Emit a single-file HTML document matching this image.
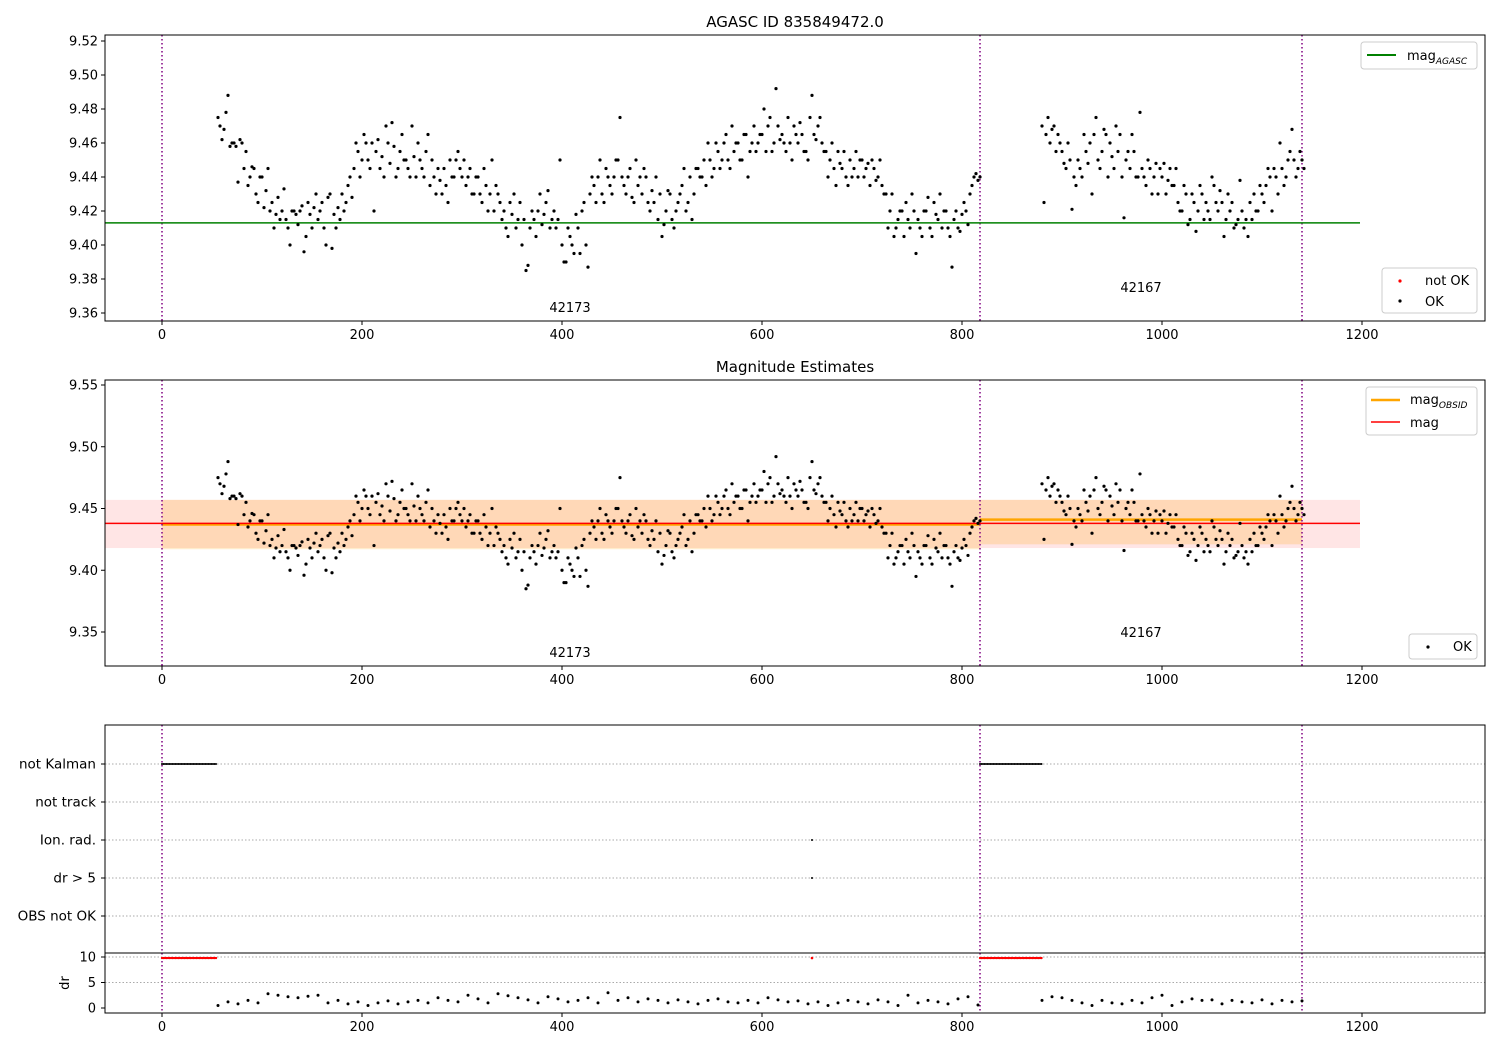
<!DOCTYPE html>
<html><head><meta charset="utf-8"><style>
body{margin:0;background:#fff;font-family:"Liberation Sans","DejaVu Sans",sans-serif}
svg text{font-family:"DejaVu Sans","Liberation Sans",sans-serif;font-size:13px;fill:#000}
</style></head><body>
<svg id="c" width="1500" height="1050" xmlns="http://www.w3.org/2000/svg"></svg>
<script>
const mags1=[9.475,9.462,9.478,9.458,9.46,9.437,9.46,9.455,9.44,9.445,9.425,9.44,9.432,9.42,9.41,9.428,9.42,9.415,9.40,9.42,9.412,9.423,9.405,9.418,9.422,9.415,9.425,9.40,9.43,9.418,9.422,9.43,9.425,9.44,9.445,9.455,9.45,9.46,9.445,9.42,9.462,9.452,9.47,9.448,9.458,9.445,9.465,9.45,9.44,9.452,9.46,9.445,9.455,9.435,9.44,9.445,9.43,9.435,9.45,9.44,9.455,9.44,9.435,9.445,9.43,9.44,9.425,9.435,9.43,9.42,9.43,9.415,9.41,9.425,9.43,9.415,9.40,9.385,9.41,9.415,9.42,9.412,9.425,9.41,9.42,9.415,9.40,9.39,9.405,9.395,9.41,9.42,9.40,9.43,9.435,9.44,9.43,9.445,9.435,9.44,9.45,9.44,9.43,9.445,9.425,9.435,9.43,9.44,9.42,9.425,9.415,9.405,9.42,9.43,9.41,9.425,9.435,9.42,9.44,9.43,9.445,9.44,9.435,9.45,9.445,9.455,9.45,9.465,9.445,9.455,9.46,9.45,9.465,9.455,9.47,9.46,9.465,9.455,9.475,9.46,9.47,9.465,9.455,9.46,9.47,9.46,9.465,9.455,9.475,9.465,9.47,9.46,9.455,9.45,9.445,9.455,9.445,9.44,9.45,9.445,9.44,9.45,9.445,9.435,9.445,9.44,9.435,9.43,9.42,9.405,9.415,9.42,9.425,9.41,9.42,9.415,9.405,9.42,9.41,9.425,9.415,9.41,9.42,9.405,9.415,9.41,9.418,9.42,9.43,9.44,9.438];
const mags1b=[9.47,9.468,9.488,9.46,9.458,9.462,9.445,9.435,9.446,9.43,9.44,9.422,9.445,9.425,9.418,9.415,9.433,9.41,9.42,9.418,9.42,9.396,9.425,9.41,9.43,9.42,9.41,9.428,9.398,9.41,9.415,9.42,9.435,9.428,9.46,9.44,9.465,9.45,9.46,9.455,9.445,9.44,9.46,9.472,9.44,9.455,9.45,9.445,9.47,9.44,9.45,9.44,9.465,9.45,9.43,9.438,9.445,9.425,9.44,9.45,9.445,9.45,9.44,9.43,9.44,9.43,9.445,9.42,9.45,9.435,9.425,9.42,9.405,9.418,9.41,9.425,9.415,9.388,9.42,9.405,9.43,9.418,9.432,9.415,9.41,9.45,9.39,9.41,9.40,9.418,9.395,9.425,9.387,9.44,9.425,9.45,9.425,9.44,9.43,9.45,9.475,9.435,9.44,9.428,9.45,9.44,9.445,9.425,9.432,9.44,9.43,9.412,9.432,9.415,9.42,9.43,9.445,9.425,9.415,9.445,9.44,9.45,9.46,9.44,9.46,9.445,9.46,9.45,9.47,9.46,9.45,9.465,9.44,9.46,9.455,9.465,9.48,9.47,9.455,9.492,9.462,9.46,9.475,9.45,9.465,9.472,9.455,9.45,9.488,9.462,9.475,9.455,9.44,9.46,9.435,9.448,9.455,9.435,9.44,9.455,9.45,9.44,9.448,9.45,9.438,9.45,9.43,9.41,9.43,9.41,9.42,9.405,9.415,9.43,9.395,9.41,9.42,9.428,9.405,9.418,9.43,9.42,9.41,9.387,9.42,9.408,9.425,9.412,9.435,9.442,9.44];
const mags2=[9.47,9.465,9.46,9.47,9.465,9.455,9.445,9.45,9.44,9.45,9.44,9.455,9.46,9.465,9.45,9.455,9.465,9.46,9.445,9.455,9.44,9.45,9.445,9.455,9.44,9.445,9.435,9.445,9.44,9.43,9.44,9.43,9.445,9.435,9.425,9.42,9.43,9.415,9.425,9.42,9.43,9.425,9.415,9.435,9.42,9.425,9.415,9.42,9.41,9.415,9.42,9.415,9.425,9.43,9.42,9.43,9.435,9.44,9.445,9.43,9.445,9.44,9.455,9.45,9.445,9.45];
const mags2b=[9.425,9.475,9.468,9.455,9.46,9.448,9.46,9.421,9.435,9.445,9.465,9.448,9.43,9.475,9.445,9.468,9.44,9.452,9.47,9.465,9.416,9.455,9.465,9.44,9.478,9.44,9.45,9.43,9.448,9.445,9.448,9.438,9.435,9.445,9.42,9.435,9.412,9.43,9.408,9.435,9.415,9.42,9.44,9.425,9.432,9.405,9.43,9.425,9.412,9.438,9.41,9.405,9.415,9.42,9.435,9.425,9.445,9.42,9.44,9.46,9.435,9.45,9.468,9.44,9.455,9.445];
const dr1=[0.5,1.2,0.8,1.5,1.0,2.8,2.5,2.2,2.0,2.3,2.5,1.0,1.5,0.8,1.2,0.5,1.0,1.4,0.8,1.2,1.5,1.0,2.0,1.5,1.2,2.5,1.8,1.0,2.8,2.4,2.0,1.6,1.0,2.2,1.8,1.2,1.5,2.0,1.0,3.0,1.5,2.0,1.2,1.8,1.5,1.0,1.6,1.2,0.8,1.5,1.8,1.2,1.0,1.5,1.0,2.0,1.6,1.2,1.4,0.8,1.2,0.5,1.0,1.5,1.2,0.8,1.6,1.2,0.5,2.5,1.0,1.5,1.2,0.8,1.8,2.2,0.6];
const dr2=[1.5,2.2,2.0,1.5,1.0,0.5,1.5,1.0,0.8,1.5,1.0,2.0,2.5,0.5,1.2,1.8,1.5,1.6,0.8,1.5,1.2,1.0,1.6,0.8,1.5,1.2,1.4];
const obsStarts=[0,818];const obsEnds=[818,1140];const obsIds=["42173","42167"];
const obsMag=[9.437,9.441];const obsLo=[9.417,9.421];const obsHi=[9.457,9.457];
const magAgasc=9.413, magAll=9.438, magLo=9.418, magHi=9.457;
const xTicks=[0,200,400,600,800,1000,1200];
const y1Ticks=[9.36,9.38,9.40,9.42,9.44,9.46,9.48,9.50,9.52];
const y2Ticks=[9.35,9.40,9.45,9.50,9.55];
const cats=["not Kalman","not track","Ion. rad.","dr > 5","OBS not OK"];
const drTicks=[0,5,10];
const t1Start=56,t1bStart=58,t2Start=880,t2bStart=882,tStep=4,drStep=10;
const nkRanges=[[0,55],[818,880]];
const ionT=650;

const S=document.getElementById('c');const NS='http://www.w3.org/2000/svg';
function el(t,a,p){const e=document.createElementNS(NS,t);for(const k in a)e.setAttribute(k,a[k]);(p||S).appendChild(e);return e;}
const X=v=>162+v;
const Y1=v=>41+(9.52-v)*1700;
const Y2=v=>385+(9.55-v)*1235;
const YC=i=>764+i*38;
const YD=v=>1008-v*5.1;
const L=105,R=1485;
function txt(x,y,s,anchor,name,size){const t=el('text',{x:x,y:y,'text-anchor':anchor||'middle'});t.textContent=s;if(size)t.style.fontSize=size+'px';return t;}
function xAxis(bot,g){xTicks.forEach(v=>{el('line',{x1:X(v),x2:X(v),y1:bot,y2:bot+4,stroke:'#000'},g);txt(X(v),bot+18,String(v),'middle','x-tick-label');});}
function vlines(top,bot,g){[0,818,1140].forEach(v=>{const l=el('line',{x1:X(v),x2:X(v),y1:top,y2:bot,stroke:'#800080','stroke-width':1.5,'stroke-dasharray':'1.5,2.5'},g);});}
function series(arr,start,Yf,g){arr.forEach((m,i)=>{const c=el('circle',{cx:X(start+i*tStep),cy:Yf(m),r:1.6,fill:'#000'},g);});}
function pts(Yf,g){series(mags1,t1Start,Yf,g);series(mags1b,t1bStart,Yf,g);series(mags2,t2Start,Yf,g);series(mags2b,t2bStart,Yf,g);}

// Panel 1
const g1=el('g',{});
txt(795,27,'AGASC ID 835849472.0','middle','top-title',15);
vlines(35,321,g1);
const ag=el('line',{x1:L,x2:X(1198),y1:Y1(magAgasc),y2:Y1(magAgasc),stroke:'green','stroke-width':1.5},g1);
pts(Y1,g1);
y1Ticks.forEach(v=>{el('line',{x1:L-4,x2:L,y1:Y1(v),y2:Y1(v),stroke:'#000'},g1);txt(L-7,Y1(v)+4.5,v.toFixed(2),'end','y1-tick-label');});
xAxis(321,g1);
{const f=el('rect',{x:L,y:35,width:R-L,height:286,fill:'none',stroke:'#000'});}
txt(570,312,obsIds[0],'middle','obsid-label');txt(1141,292,obsIds[1],'middle','obsid-label');
function legBox(x,y,w,h,name){const r=el('rect',{x:x,y:y,width:w,height:h,rx:3,fill:'#fff',stroke:'#ccc','fill-opacity':0.8});}
legBox(1361,42,116,27,'legend-agasc');el('line',{x1:1367,x2:1396,y1:55,y2:55,stroke:'green','stroke-width':2});
{const t=txt(1407,60,'mag','start','legend-entry');const s=el('tspan',{dy:4});s.textContent='AGASC';s.style.fontSize='9px';s.style.fontStyle='italic';t.appendChild(s);}
legBox(1382,268,95,45,'legend-ok');el('circle',{cx:1400,cy:281,r:1.6,fill:'red'});txt(1425,285,'not OK','start','legend-entry');
el('circle',{cx:1400,cy:301,r:1.6,fill:'#000'});txt(1425,306,'OK','start','legend-entry');

// Panel 2
const g2=el('g',{});
txt(795,372,'Magnitude Estimates','middle','middle-title',15);
const band=el('rect',{x:L,y:Y2(magHi),width:X(1198)-L,height:Y2(magLo)-Y2(magHi),fill:'red','fill-opacity':0.1},g2);
obsStarts.forEach((s,i)=>{const b=el('rect',{x:X(s),y:Y2(obsHi[i]),width:X(obsEnds[i])-X(s),height:Y2(obsLo[i])-Y2(obsHi[i]),fill:'orange','fill-opacity':0.2},g2);
const l=el('line',{x1:X(s),x2:X(obsEnds[i]),y1:Y2(obsMag[i]),y2:Y2(obsMag[i]),stroke:'orange','stroke-width':2.5},g2);});
const ml=el('line',{x1:L,x2:X(1198),y1:Y2(magAll),y2:Y2(magAll),stroke:'red','stroke-width':1.5},g2);
vlines(380,666,g2);pts(Y2,g2);
y2Ticks.forEach(v=>{el('line',{x1:L-4,x2:L,y1:Y2(v),y2:Y2(v),stroke:'#000'},g2);txt(L-7,Y2(v)+4.5,v.toFixed(2),'end','y2-tick-label');});
xAxis(666,g2);
{const f=el('rect',{x:L,y:380,width:R-L,height:286,fill:'none',stroke:'#000'});}
txt(570,657,obsIds[0],'middle','obsid-label');txt(1141,637,obsIds[1],'middle','obsid-label');
legBox(1366,387,111,48,'legend-mag');el('line',{x1:1371,x2:1400,y1:400,y2:400,stroke:'orange','stroke-width':2.5});
{const t=txt(1410,404,'mag','start','legend-entry');const s=el('tspan',{dy:4});s.textContent='OBSID';s.style.fontSize='9px';s.style.fontStyle='italic';t.appendChild(s);}
el('line',{x1:1371,x2:1400,y1:422,y2:422,stroke:'red','stroke-width':1.5});txt(1410,427,'mag','start','legend-entry');
legBox(1409,634,68,25,'legend-ok2');el('circle',{cx:1428,cy:647,r:1.6,fill:'#000'});txt(1453,651,'OK','start','legend-entry');

// Panel 3
const g3=el('g',{});
cats.forEach((c,i)=>{el('line',{x1:L,x2:R,y1:YC(i),y2:YC(i),stroke:'#aaa','stroke-dasharray':'1.5,2'},g3);el('line',{x1:L-4,x2:L,y1:YC(i),y2:YC(i),stroke:'#000'},g3);const t=txt(L-9,YC(i)+4.5,c,'end','category-label');t.style.fontSize='13.5px';});
[5,10].forEach(v=>el('line',{x1:L,x2:R,y1:YD(v),y2:YD(v),stroke:'#aaa','stroke-dasharray':'1.5,2'},g3));
vlines(725,1013,g3);
nkRanges.forEach(r=>{for(let t=r[0];t<=r[1];t+=1.5){el('circle',{cx:X(t),cy:YC(0),r:1,fill:'#000'},g3);const d=el('circle',{cx:X(t),cy:YD(9.8),r:1.2,fill:'red'},g3);}});
el('circle',{cx:X(ionT),cy:YC(2),r:1,fill:'#000'},g3);el('circle',{cx:X(ionT),cy:YC(3),r:1,fill:'#000'},g3);el('circle',{cx:X(ionT),cy:YD(9.8),r:1.3,fill:'red'},g3);
dr1.forEach((d,i)=>{const c=el('circle',{cx:X(t1Start+i*drStep),cy:YD(d),r:1.5,fill:'#000'},g3);});
dr2.forEach((d,i)=>{const c=el('circle',{cx:X(t2Start+i*drStep),cy:YD(d),r:1.5,fill:'#000'},g3);});
drTicks.forEach(v=>{el('line',{x1:L-4,x2:L,y1:YD(v),y2:YD(v),stroke:'#000'},g3);txt(L-9,YD(v)+4.5,String(v),'end','dr-tick-label');});
{const t=el('text',{x:69,y:983,'text-anchor':'middle',transform:'rotate(-90 69 983)'});t.textContent='dr';}
el('line',{x1:L,x2:R,y1:953,y2:953,stroke:'#000'},g3);
xAxis(1013,g3);
{const f=el('rect',{x:L,y:725,width:R-L,height:288,fill:'none',stroke:'#000'});}
</script>
</body></html>
